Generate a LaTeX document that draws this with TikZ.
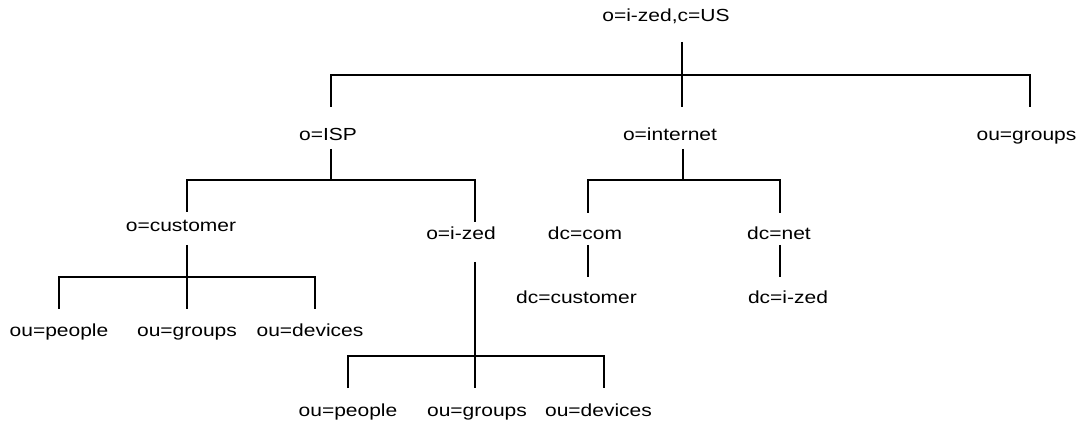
\documentclass[tikz,border=0pt]{standalone}
\usepackage{fontspec}
\setmainfont{Liberation Sans}[FakeStretch=1.2]
\tikzset{
  lbl/.style={anchor=base, inner sep=0pt, font=\fontsize{17.5}{20}\selectfont},
  conn/.style={line width=2.2pt, line cap=butt},
}
\begin{document}
\begin{tikzpicture}[x=1pt,y=-1pt]
\useasboundingbox (0,0) rectangle (1088,422);
% labels
\node[lbl] (root) at (666,21.7) {o=i-zed,c=US};
\node[lbl] (isp) at (328,140.5) {o=ISP};
\node[lbl] (inet) at (670,140.5) {o=internet};
\node[lbl] (grp) at (1026.5,140.5) {ou=groups};
\node[lbl] (cust) at (181,232) {o=customer};
\node[lbl] (ized) at (461,240) {o=i-zed};
\node[lbl] (com) at (585,240) {dc=com};
\node[lbl] (net) at (779,240) {dc=net};
\node[lbl] (dccust) at (576.5,303.5) {dc=customer};
\node[lbl] (dcized) at (788,303.5) {dc=i-zed};
\node[lbl] (cpeople) at (59,336.5) {ou=people};
\node[lbl] (cgroups) at (187,336.5) {ou=groups};
\node[lbl] (cdevices) at (310,336.5) {ou=devices};
\node[lbl] (ipeople) at (348,416.5) {ou=people};
\node[lbl] (igroups) at (477,416.5) {ou=groups};
\node[lbl] (idevices) at (598.5,416.5) {ou=devices};
% junction coordinates
\coordinate (rootS) at (682,42);
\coordinate (rootJ) at (682,75);
\coordinate (rootL) at (331,75);
\coordinate (rootR) at (1030,75);
\coordinate (ispN) at (331,107);
\coordinate (inetN) at (682,107);
\coordinate (grpN) at (1030,107);
\coordinate (ispS) at (331,149);
\coordinate (ispJ) at (331,180);
\coordinate (ispL) at (187,180);
\coordinate (ispR) at (475,180);
\coordinate (custN) at (187,212);
\coordinate (izedN) at (475,222);
\coordinate (inetS) at (683,149);
\coordinate (inetJ) at (683,180);
\coordinate (inetL) at (588,180);
\coordinate (inetR) at (780,180);
\coordinate (comN) at (588,213);
\coordinate (netN) at (780,213);
\coordinate (comS) at (588,245);
\coordinate (dccustN) at (588,277);
\coordinate (netS) at (780,245);
\coordinate (dcizedN) at (780,277);
\coordinate (custS) at (187,245);
\coordinate (custJ) at (187,277);
\coordinate (custL) at (59,277);
\coordinate (custR) at (315,277);
\coordinate (cpeopleN) at (59,309);
\coordinate (cgroupsN) at (187,309);
\coordinate (cdevicesN) at (315,309);
\coordinate (izedS) at (475,262);
\coordinate (izedJ) at (475,356);
\coordinate (izedL) at (348,356);
\coordinate (izedR) at (604,356);
\coordinate (ipeopleN) at (348,388);
\coordinate (igroupsN) at (475,388);
\coordinate (idevicesN) at (604,388);
% connectors
\draw[conn] (rootS) -- (inetN);
\draw[conn] (ispN) -- (rootL) -- (rootR) -- (grpN);
\draw[conn] (ispS) -- (ispJ);
\draw[conn] (custN) -- (ispL) -- (ispR) -- (izedN);
\draw[conn] (inetS) -- (inetJ);
\draw[conn] (comN) -- (inetL) -- (inetR) -- (netN);
\draw[conn] (comS) -- (dccustN);
\draw[conn] (netS) -- (dcizedN);
\draw[conn] (custS) -- (custJ);
\draw[conn] (cpeopleN) -- (custL) -- (custR) -- (cdevicesN);
\draw[conn] (custJ) -- (cgroupsN);
\draw[conn] (izedS) -- (izedJ);
\draw[conn] (ipeopleN) -- (izedL) -- (izedR) -- (idevicesN);
\draw[conn] (izedJ) -- (igroupsN);
\end{tikzpicture}
\end{document}
